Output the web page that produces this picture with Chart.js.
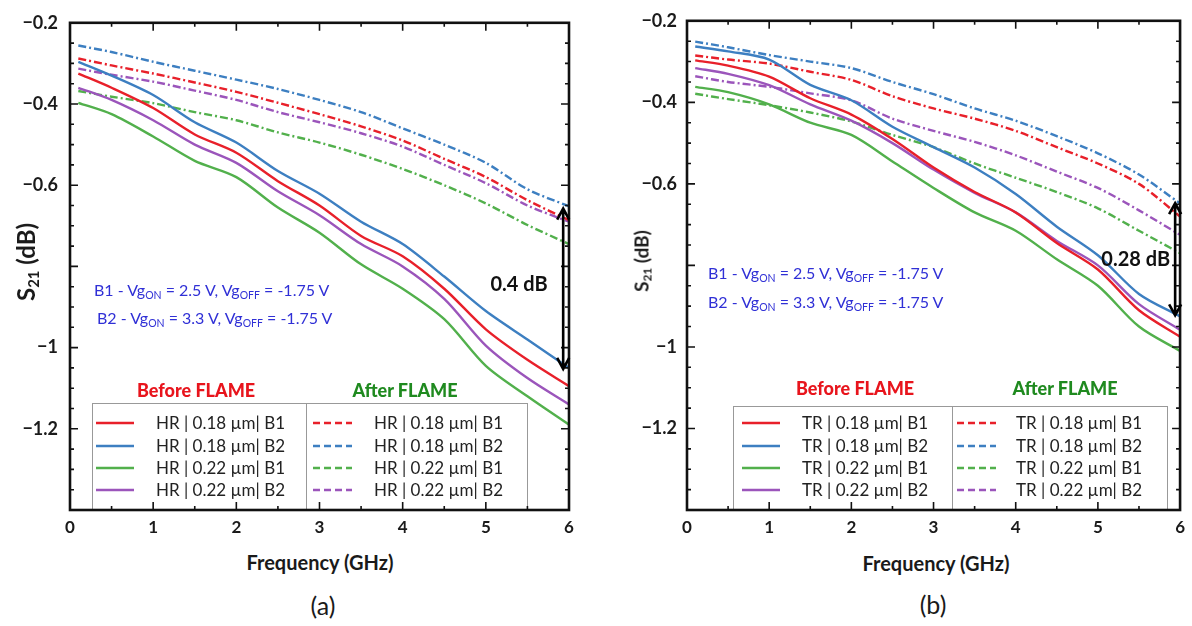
<!DOCTYPE html>
<html>
<head>
<meta charset="utf-8">
<script src="https://cdn.jsdelivr.net/npm/chart.js@4.4.1/dist/chart.umd.min.js"></script>
<style>
  body { margin:0; background:#fff; width:1192px; height:626px; position:relative; overflow:hidden; font-family: Lato, "Open Sans", sans-serif; color:#1a1a1a; }
  canvas { position:absolute; top:0; }
  #cA { left:0; }
  #cB { left:617px; }
  .t { position:absolute; white-space:nowrap; line-height:1; }
  .note { color:#3030d6; font-size:16px; }
  .note sub { font-size:10.5px; vertical-align:-3px; line-height:0; }
  .grp { font-weight:900; font-size:18px; transform:translateX(-50%); }
  .axt { font-weight:bold; font-size:20px; transform:translateX(-50%); }
  .cap { font-size:25px; transform:translateX(-50%); }
  .ytitle { font-weight:bold; transform:translate(-50%,-50%) rotate(-90deg); }
  .ytitle sub { font-size:0.62em; vertical-align:-0.25em; line-height:0; }
</style>
</head>
<body>
<canvas id="cA" width="590" height="540"></canvas>
<canvas id="cB" width="575" height="540"></canvas>

<div class="t ytitle" style="left:26px; top:262px; font-size:24px;">S<sub>21</sub> (dB)</div>
<div class="t ytitle" style="left:641px; top:261px; font-size:19px;">S<sub>21</sub> (dB)</div>

<div class="t note" style="left:94px; top:282px;">B1 - Vg<sub>ON</sub> = 2.5 V, Vg<sub>OFF</sub> = -1.75 V</div>
<div class="t note" style="left:97px; top:310px;">B2 - Vg<sub>ON</sub> = 3.3 V, Vg<sub>OFF</sub> = -1.75 V</div>
<div class="t note" style="left:708px; top:265px;">B1 - Vg<sub>ON</sub> = 2.5 V, Vg<sub>OFF</sub> = -1.75 V</div>
<div class="t note" style="left:708px; top:294px;">B2 - Vg<sub>ON</sub> = 3.3 V, Vg<sub>OFF</sub> = -1.75 V</div>

<div class="t grp" style="left:196px; top:381px; color:#e8141c;">Before FLAME</div>
<div class="t grp" style="left:405px; top:381px; color:#1f8a1f;">After FLAME</div>
<div class="t grp" style="left:855px; top:379px; color:#e8141c;">Before FLAME</div>
<div class="t grp" style="left:1065px; top:379px; color:#1f8a1f;">After FLAME</div>

<div class="t axt" style="left:320px; top:552px;">Frequency (GHz)</div>
<div class="t axt" style="left:936px; top:553px;">Frequency (GHz)</div>
<div class="t cap" style="left:323px; top:593px;">(a)</div>
<div class="t cap" style="left:933px; top:592px;">(b)</div>

<script>
// frequency points (GHz), shared by every curve
var FREQ = [0.1, 0.5, 1, 1.5, 2, 2.5, 3, 3.5, 4, 4.5, 5, 5.5, 6];

// (a) HR, before FLAME (solid)
var hrBefore_018_B1 = [-0.325, -0.36, -0.41, -0.475, -0.52, -0.59, -0.65, -0.725, -0.775, -0.855, -0.955, -1.03, -1.095];
var hrBefore_018_B2 = [-0.296, -0.33, -0.378, -0.445, -0.495, -0.565, -0.621, -0.69, -0.745, -0.825, -0.91, -0.98, -1.05];
var hrBefore_022_B1 = [-0.397, -0.425, -0.48, -0.54, -0.58, -0.655, -0.717, -0.795, -0.855, -0.93, -1.045, -1.12, -1.19];
var hrBefore_022_B2 = [-0.36, -0.39, -0.44, -0.5, -0.545, -0.615, -0.674, -0.745, -0.8, -0.88, -0.995, -1.075, -1.14];
// (a) HR, after FLAME (dashed)
var hrAfter_018_B1 = [-0.288, -0.305, -0.325, -0.347, -0.37, -0.397, -0.425, -0.455, -0.49, -0.535, -0.58, -0.637, -0.686];
var hrAfter_018_B2 = [-0.256, -0.272, -0.296, -0.318, -0.34, -0.363, -0.39, -0.42, -0.46, -0.5, -0.545, -0.61, -0.652];
var hrAfter_022_B1 = [-0.368, -0.382, -0.398, -0.42, -0.44, -0.47, -0.495, -0.525, -0.56, -0.6, -0.645, -0.698, -0.745];
var hrAfter_022_B2 = [-0.313, -0.328, -0.345, -0.367, -0.39, -0.42, -0.445, -0.472, -0.505, -0.55, -0.595, -0.65, -0.69];

// (b) TR, before FLAME (solid)
var trBefore_018_B1 = [-0.297, -0.31, -0.337, -0.39, -0.43, -0.49, -0.56, -0.62, -0.67, -0.745, -0.81, -0.91, -0.975];
var trBefore_018_B2 = [-0.263, -0.275, -0.295, -0.357, -0.395, -0.46, -0.51, -0.56, -0.625, -0.705, -0.775, -0.87, -0.925];
var trBefore_022_B1 = [-0.362, -0.375, -0.405, -0.45, -0.48, -0.545, -0.61, -0.67, -0.715, -0.785, -0.85, -0.95, -1.01];
var trBefore_022_B2 = [-0.316, -0.33, -0.358, -0.405, -0.445, -0.5, -0.565, -0.622, -0.67, -0.74, -0.8, -0.895, -0.958];
// (b) TR, after FLAME (dashed)
var trAfter_018_B1 = [-0.285, -0.295, -0.305, -0.325, -0.345, -0.385, -0.415, -0.44, -0.47, -0.51, -0.55, -0.6, -0.68];
var trAfter_018_B2 = [-0.251, -0.265, -0.284, -0.3, -0.316, -0.35, -0.38, -0.415, -0.445, -0.483, -0.525, -0.577, -0.648];
var trAfter_022_B1 = [-0.379, -0.392, -0.407, -0.425, -0.447, -0.48, -0.51, -0.55, -0.585, -0.62, -0.66, -0.715, -0.77];
var trAfter_022_B2 = [-0.336, -0.35, -0.362, -0.378, -0.395, -0.44, -0.47, -0.497, -0.53, -0.57, -0.61, -0.665, -0.725];

var SERIES_LABELS = ['0.18 \u00b5m| B1', '0.18 \u00b5m| B2', '0.22 \u00b5m| B1', '0.22 \u00b5m| B2'];
var COLORS = ['#e8202a', '#3d7fc1', '#52b04c', '#9b55bb'];

function makeSet(label, vals, color, dashed) {
  return {
    label: label,
    data: FREQ.map(function (f, i) { return { x: f, y: vals[i] }; }),
    borderColor: color,
    borderWidth: 2.4,
    borderDash: dashed ? [8, 3, 2, 3] : [],
    pointRadius: 0,
    tension: 0.3,
    fill: false
  };
}

function buildSets(prefix, before, after) {
  var sets = [];
  before.forEach(function (v, i) { sets.push(makeSet(prefix + ' | ' + SERIES_LABELS[i], v, COLORS[i], false)); });
  after.forEach(function (v, i) { sets.push(makeSet(prefix + ' | ' + SERIES_LABELS[i], v, COLORS[i], true)); });
  return sets;
}

// frame, inward ticks, legend boxes and the dB arrow
var framePlugin = {
  id: 'frame',
  afterDatasetsDraw: function (chart, args, o) {
    var ctx = chart.ctx, a = chart.chartArea;
    var xs = chart.scales.x, ys = chart.scales.y;
    ctx.save();

    // legend
    var lg = o.legend;
    ctx.fillStyle = '#fff';
    ctx.fillRect(lg.left, lg.top, lg.right - lg.left, a.bottom - lg.top);
    ctx.strokeStyle = '#999';
    ctx.lineWidth = 1;
    ctx.strokeRect(lg.left + 0.5, lg.top + 0.5, lg.right - lg.left, a.bottom - lg.top);
    ctx.beginPath();
    ctx.moveTo(lg.mid + 0.5, lg.top);
    ctx.lineTo(lg.mid + 0.5, a.bottom);
    ctx.stroke();
    ctx.font = '17px Lato';
    ctx.textBaseline = 'middle';
    chart.data.datasets.forEach(function (ds, i) {
      var col = i < 4 ? 0 : 1, y = lg.rows[i % 4];
      ctx.strokeStyle = ds.borderColor;
      ctx.lineWidth = 2.4;
      ctx.setLineDash(col ? [7, 4] : []);
      ctx.beginPath();
      ctx.moveTo(lg.sample[col][0], y);
      ctx.lineTo(lg.sample[col][1], y);
      ctx.stroke();
      ctx.setLineDash([]);
      ctx.fillStyle = '#222';
      ctx.fillText(ds.label, lg.text[col], y + 1);
    });

    // ticks (inside, on all four sides)
    ctx.strokeStyle = '#111';
    ctx.lineWidth = 1.6;
    ctx.beginPath();
    for (var k = -28; k <= -4; k++) {
      var py = ys.getPixelForValue(k / 20), len = (k % 4 === 0) ? 8 : 4;
      ctx.moveTo(a.left, py); ctx.lineTo(a.left + len, py);
      ctx.moveTo(a.right, py); ctx.lineTo(a.right - len, py);
    }
    for (var j = 0; j <= 12; j++) {
      var px = xs.getPixelForValue(j / 2), l2 = (j % 2 === 0) ? 8 : 4;
      ctx.moveTo(px, a.bottom); ctx.lineTo(px, a.bottom - l2);
      ctx.moveTo(px, a.top); ctx.lineTo(px, a.top + l2);
    }
    ctx.stroke();

    // frame
    ctx.lineWidth = 2.6;
    ctx.strokeRect(a.left, a.top, a.right - a.left, a.bottom - a.top);

    // double arrow + label
    var ar = o.arrow;
    var ax = xs.getPixelForValue(ar.x), y1 = ys.getPixelForValue(ar.from), y2 = ys.getPixelForValue(ar.to);
    ctx.strokeStyle = '#000';
    ctx.lineWidth = 2.6;
    ctx.beginPath();
    ctx.moveTo(ax, y1 + 2); ctx.lineTo(ax, y2 - 2);
    ctx.moveTo(ax - 6, y1 + 12); ctx.lineTo(ax, y1 + 1); ctx.lineTo(ax + 6, y1 + 12);
    ctx.moveTo(ax - 6, y2 - 12); ctx.lineTo(ax, y2 - 1); ctx.lineTo(ax + 6, y2 - 12);
    ctx.stroke();
    ctx.fillStyle = '#111';
    ctx.font = 'bold 20px Lato';
    ctx.textAlign = 'center';
    ctx.fillText(ar.label, xs.getPixelForValue(ar.lx), ys.getPixelForValue(ar.ly));
    ctx.restore();
  }
};

function yLabel(v) {
  if (Math.abs(v + 0.8) < 1e-6 || Math.abs(v + 1.4) < 1e-6) return '';
  var s = Math.round(v * 10) / 10;
  return '\u2212' + String(Math.abs(s));
}

function makeChart(id, sets, padRight, yPad, legend, arrow) {
  return new Chart(document.getElementById(id), {
    type: 'line',
    data: { datasets: sets },
    plugins: [framePlugin],
    options: {
      responsive: false,
      animation: false,
      devicePixelRatio: 1,
      layout: { padding: { top: 13, right: padRight, left: 0, bottom: 0 } },
      plugins: {
        legend: { display: false },
        tooltip: { enabled: false },
        frame: { legend: legend, arrow: arrow }
      },
      scales: {
        x: {
          type: 'linear', min: 0, max: 6,
          grid: { display: false, drawTicks: false },
          border: { display: false },
          ticks: { stepSize: 1, padding: 7, color: '#1a1a1a', font: { family: 'Lato', weight: 'bold', size: 17 } },
          afterFit: function (s) { s.height = 30; }
        },
        y: {
          min: -1.4, max: -0.2,
          grid: { display: false, drawTicks: false },
          border: { display: false },
          ticks: { stepSize: 0.2, padding: yPad, color: '#1a1a1a', font: { family: 'Lato', weight: 'bold', size: 18 }, callback: yLabel },
          afterFit: function (s) { s.width = 70; }
        }
      }
    }
  });
}

function draw() {
  makeChart('cA',
    buildSets('HR', [hrBefore_018_B1, hrBefore_018_B2, hrBefore_022_B1, hrBefore_022_B2],
                    [hrAfter_018_B1, hrAfter_018_B2, hrAfter_022_B1, hrAfter_022_B2]),
    21, 12,
    { left: 92, top: 403, right: 527, mid: 306, rows: [423, 446, 468, 490], sample: [[96, 134], [313, 352]], text: [156, 374] },
    { x: 5.93, from: -0.655, to: -1.055, label: '0.4 dB', lx: 5.4, ly: -0.845 });

  makeChart('cB',
    buildSets('TR', [trBefore_018_B1, trBefore_018_B2, trBefore_022_B1, trBefore_022_B2],
                    [trAfter_018_B1, trAfter_018_B2, trAfter_022_B1, trAfter_022_B2]),
    7, 10,
    { left: 116, top: 406, right: 550, mid: 335, rows: [423, 446, 468, 490], sample: [[125, 163], [340, 379]], text: [185, 399] },
    { x: 5.94, from: -0.645, to: -0.925, label: '0.28 dB', lx: 5.46, ly: -0.785 });
}

Promise.all([
  document.fonts.load('bold 17px Lato'),
  document.fonts.load('17px Lato')
]).then(draw, draw);
</script>
</body>
</html>
